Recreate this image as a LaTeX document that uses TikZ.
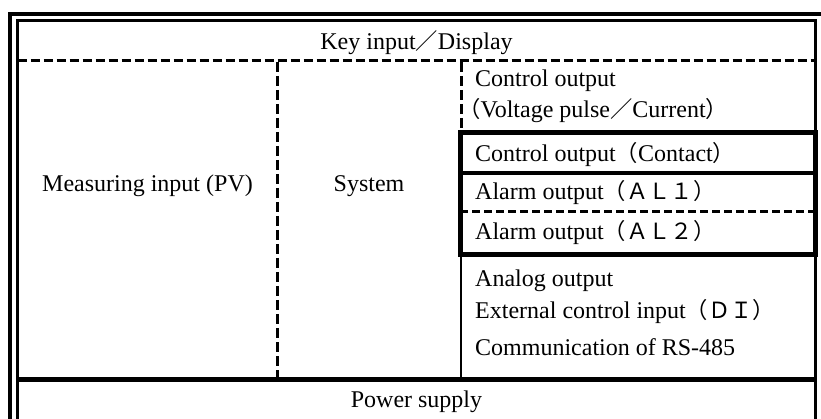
\documentclass[tikz,border=0pt]{standalone}
\usepackage{fontspec}
\setmainfont{Liberation Serif}
\newfontfamily\cjk[Scale=0.93]{Noto Sans CJK JP}
\newcommand{\fw}[1]{{\cjk #1}}
\begin{document}
\begin{tikzpicture}[x=1pt,y=-1pt,
  frame/.style={line width=3.5pt},
  heavy/.style={line width=5pt},
  dashline/.style={line width=3.5pt, dash pattern=on 9pt off 4pt},
  vdash/.style={line width=3pt, dash pattern=on 10pt off 4pt},
  lbl/.style={inner sep=0pt, font=\fontsize{24}{28}\selectfont},
  lft/.style={lbl, anchor=base west},
  ctr/.style={lbl, anchor=base}]
\useasboundingbox (0,0) rectangle (821,419);
% double frame
\draw[frame] (10,419) -- (10,14) -- (821,14);
\draw[frame] (17.5,419) -- (17.5,20.7) -- (815.5,20.7) -- (815.5,419);
% key row separator
\draw[dashline] (17.5,60.5) -- (815.5,60.5);
% column separators
\draw[vdash] (277,62) -- (277,377);
\draw[vdash] (461,62) -- (461,133);
% heavy box of relay outputs
\draw[heavy] (460,133) rectangle (815.5,255);
\draw[line width=4pt] (460,173.5) -- (815.5,173.5);
\draw[line width=3pt, dash pattern=on 8pt off 4pt] (460,212) -- (815.5,212);
\draw[line width=2.5pt] (461,255) -- (461,377);
% power supply separator
\draw[line width=5.5pt] (17.5,379.5) -- (815.5,379.5);
% texts
\node[ctr] (key) at (416.5,50) {Key input\fw{／}Display};
\node[ctr] (meas) at (147.5,192) {Measuring input (PV)};
\node[ctr] (sys) at (369,192) {System};
\node[lft] (co) at (475,87) {Control output};
\node[lft] (vp) at (458,118) {\fw{（}Voltage pulse\fw{／}Current\fw{）}};
\node[lft] (cc) at (475,162) {Control output\fw{（}Contact\fw{）}};
\node[lft] (al1) at (475,200) {Alarm output\fw{（ＡＬ１）}};
\node[lft] (al2) at (475,240) {Alarm output\fw{（ＡＬ２）}};
\node[lft] (ao) at (475,287) {Analog output};
\node[lft] (di) at (475,318) {External control input\fw{（ＤＩ）}};
\node[lft] (rs) at (475,355) {Communication of RS-485};
\node[ctr] (ps) at (416.5,407) {Power supply};
\end{tikzpicture}
\end{document}
